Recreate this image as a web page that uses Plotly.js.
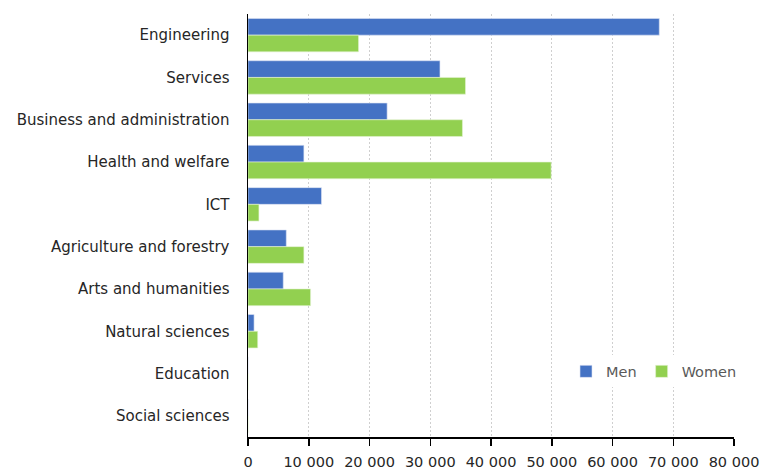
<!DOCTYPE html>
<html><head><meta charset="utf-8">
<script src="https://cdn.plot.ly/plotly-3.0.1.min.js"></script>
<style>body{margin:0;background:#fff}#c{width:762px;height:469px}</style>
</head><body><div id="c"></div>
<script>
const categories = ["Engineering","Services","Business and administration","Health and welfare","ICT","Agriculture and forestry","Arts and humanities","Natural sciences","Education","Social sciences"];
const men = [67700, 31600, 22900, 9200, 12100, 6300, 5800, 1000, 0, 0];
const women = [18200, 35800, 35300, 49900, 1800, 9200, 10300, 1600, 0, 0];
const tickVals = [0,10000,20000,30000,40000,50000,60000,70000,80000];
const tickText = ["0","10 000","20 000","30 000","40 000","50 000","60 000","70 000","80 000"];

const font = {family: "DejaVu Sans", size: 14.5, color: "#262626"};
const yfont = {family: "DejaVu Sans", size: 15, color: "#262626"};
const traces = [
  {type:"bar", orientation:"h", name:"Men", y:categories, x:men,
   marker:{color:"#4472C4", line:{color:"#dbe3f3", width:0.6}}},
  {type:"bar", orientation:"h", name:"Women", y:categories, x:women,
   marker:{color:"#92D050", line:{color:"#e4f3d3", width:0.6}}}
];
const layout = {
  width:762, height:469,
  margin:{l:248, r:28, t:14, b:32},
  paper_bgcolor:"#fff", plot_bgcolor:"#fff",
  font: font,
  barmode:"group", bargap:0.21, bargroupgap:0,
  showlegend:true,
  legend:{orientation:"h", x:(566-248)/486, y:0.155, xanchor:"left", yanchor:"middle",
          bgcolor:"#fff", font:{family:"DejaVu Sans", size:14.5, color:"#595959"},
          itemwidth:30, traceorder:"normal"},
  xaxis:{range:[0,80000], tickvals:tickVals, ticktext:tickText, automargin:false,
         showgrid:true, gridcolor:"#cfcfcf", griddash:"2px,2px", gridwidth:1,
         showline:true, linecolor:"#000", linewidth:1.5,
         ticks:"outside", ticklen:7, tickcolor:"#000", tickwidth:1.5,
         ticklabelstandoff:4,
         zeroline:false, fixedrange:true, tickfont:font},
  yaxis:{type:"category", autorange:"reversed", showgrid:false, automargin:false,
         showline:true, linecolor:"#000", linewidth:1.5,
         ticks:"", ticklabelstandoff:14, zeroline:false, tickfont:yfont}
};
Plotly.newPlot("c", traces, layout, {displayModeBar:false, staticPlot:true});
</script></body></html>
